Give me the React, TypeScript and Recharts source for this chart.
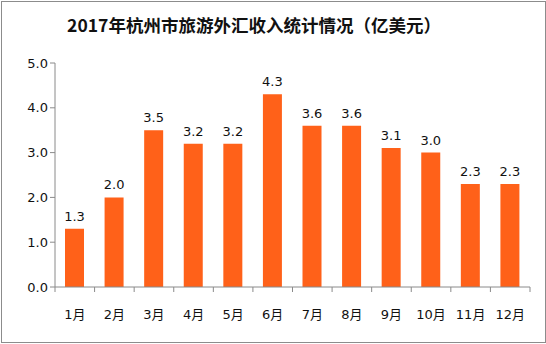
import { BarChart, Bar, XAxis, YAxis, LabelList } from "recharts";

const months = ["1月", "2月", "3月", "4月", "5月", "6月", "7月", "8月", "9月", "10月", "11月", "12月"];
const income = [1.3, 2.0, 3.5, 3.2, 3.2, 4.3, 3.6, 3.6, 3.1, 3.0, 2.3, 2.3];
const yTicks = [0, 1, 2, 3, 4, 5];

const data = months.map((m, i) => ({ name: m, value: income[i] }));

const W = 546;
const H = 344;
const PLOT_LEFT = 55;
const PLOT_RIGHT = 530;
const STEP = (PLOT_RIGHT - PLOT_LEFT) / months.length;
const FONT = "'DejaVu Sans', 'Noto Sans CJK SC', sans-serif";
const TITLE_FONT = "'Noto Sans CJK SC', sans-serif";
const AXIS = "#8a8a8a";

function MonthTick(props: any) {
  const { x, y, payload, index } = props;
  const left = x - STEP / 2;
  return (
    <g>
      <line x1={left} y1={y - 8} x2={left} y2={y - 3} stroke={AXIS} />
      {index === months.length - 1 && (
        <line x1={left + STEP} y1={y - 8} x2={left + STEP} y2={y - 3} stroke={AXIS} />
      )}
      <text x={x} y={y + 24} textAnchor="middle" fontSize={13} fill="#111" fontFamily={FONT}>
        {payload.value}
      </text>
    </g>
  );
}

export default function App() {
  return (
    <div style={{ position: "absolute", left: 0, top: 0, width: W, height: H, background: "#fff" }}>
      <div
        style={{
          position: "absolute",
          left: 1,
          top: 1,
          width: W - 3,
          height: H - 4,
          border: "1px solid #8c8c8c",
        }}
      />
      <div
        style={{
          position: "absolute",
          left: 0,
          top: 13,
          width: 508,
          textAlign: "center",
          fontFamily: TITLE_FONT,
          fontSize: 17.5,
          fontWeight: 700,
          color: "#111",
          lineHeight: "24px",
        }}
      >
        2017年杭州市旅游外汇收入统计情况（亿美元）
      </div>
      <BarChart
        width={W}
        height={H}
        data={data}
        margin={{ top: 63, right: W - PLOT_RIGHT, bottom: 27, left: 9 }}
        style={{ position: "absolute", left: 0, top: 0 }}
      >
        <XAxis
          dataKey="name"
          height={30}
          tickLine={false}
          axisLine={{ stroke: AXIS }}
          tick={<MonthTick />}
          interval={0}
        />
        <YAxis
          width={46}
          domain={[0, 5]}
          ticks={yTicks}
          tickFormatter={(v: number) => v.toFixed(1)}
          tick={{ fontSize: 13, fill: "#111", fontFamily: FONT }}
          tickLine={{ stroke: AXIS }}
          tickSize={5}
          axisLine={{ stroke: AXIS }}
        />
        <Bar dataKey="value" fill="#FF6119" barSize={19} isAnimationActive={false}>
          <LabelList
            dataKey="value"
            position="top"
            offset={8}
            formatter={(v: any) => Number(v).toFixed(1)}
            style={{ fontSize: 13, fill: "#111", fontFamily: FONT }}
          />
        </Bar>
      </BarChart>
    </div>
  );
}
